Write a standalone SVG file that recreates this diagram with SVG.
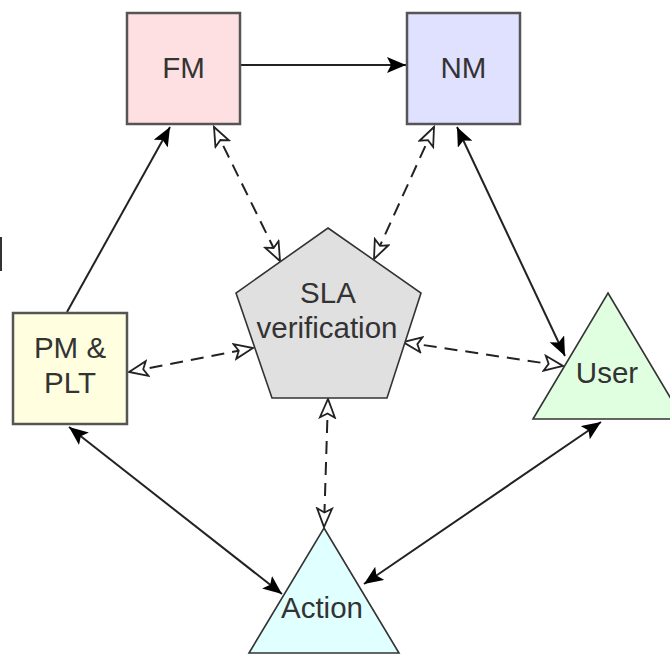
<svg xmlns="http://www.w3.org/2000/svg" width="670" height="654" viewBox="0 0 670 654">
<style>
.box{stroke:#555;stroke-width:2.5}
.shape{stroke:#333;stroke-width:1.6}
.lbl{font-family:"Liberation Sans",Arial,sans-serif;font-size:29.5px;fill:#333;text-anchor:middle}
.solid{stroke:#222;stroke-width:2;fill:none}
.dash{stroke:#222;stroke-width:2;fill:none;stroke-dasharray:13 8}
</style>
<defs>
<marker id="fa" markerUnits="userSpaceOnUse" markerWidth="22" markerHeight="18" refX="19" refY="8" orient="auto-start-reverse" viewBox="0 0 22 18">
<path d="M0,0 L19,8 L0,16 L4,8 z" fill="#000"/>
</marker>
<marker id="ha" markerUnits="userSpaceOnUse" markerWidth="24" markerHeight="20" refX="20" refY="9" orient="auto-start-reverse" viewBox="0 0 24 20">
<path d="M1.5,1.5 L20,9 L1.5,16.5 L5.5,9 z" fill="#fff" stroke="#222" stroke-width="1.8"/>
</marker>
</defs>
<rect x="0" y="237" width="2" height="34" fill="#333"/>
<g id="connectors">
<line class="solid" x1="241" y1="65" x2="406" y2="65" marker-end="url(#fa)"/>
<line class="solid" x1="67" y1="312" x2="170" y2="127" marker-end="url(#fa)"/>
<line class="solid" x1="457" y1="127" x2="565" y2="356" marker-start="url(#fa)" marker-end="url(#fa)"/>
<line class="solid" x1="69" y1="427" x2="282" y2="594" marker-start="url(#fa)" marker-end="url(#fa)"/>
<line class="solid" x1="601" y1="422" x2="364" y2="584" marker-start="url(#fa)" marker-end="url(#fa)"/>
<line class="dash" x1="214" y1="127" x2="280" y2="261" marker-start="url(#ha)" marker-end="url(#ha)"/>
<line class="dash" x1="434" y1="127" x2="374" y2="259" marker-start="url(#ha)" marker-end="url(#ha)"/>
<line class="dash" x1="129" y1="372" x2="253" y2="348" marker-start="url(#ha)" marker-end="url(#ha)"/>
<line class="dash" x1="403" y1="342" x2="563" y2="366" marker-start="url(#ha)" marker-end="url(#ha)"/>
<line class="dash" x1="328" y1="399" x2="324" y2="527" marker-start="url(#ha)" marker-end="url(#ha)"/>
</g>
<g id="FM">
<rect class="box" x="127" y="13" width="113" height="111" fill="#ffe0e2"/>
<text class="lbl" x="183.5" y="78">FM</text>
</g>
<g id="NM">
<rect class="box" x="407" y="13" width="113" height="111" fill="#e0e0ff"/>
<text class="lbl" x="463.5" y="78">NM</text>
</g>
<g id="PMPLT">
<rect class="box" x="13" y="313" width="114" height="111" fill="#ffffe0"/>
<text class="lbl" x="70" y="358">PM &amp;</text>
<text class="lbl" x="70" y="393">PLT</text>
</g>
<g id="SLA">
<polygon class="shape" points="328,228 421,293 387,398 272,398 236,293" fill="#e0e0e0"/>
<text class="lbl" x="328" y="303">SLA</text>
<text class="lbl" x="327" y="338">verification</text>
</g>
<g id="User">
<polygon class="shape" points="608,293 683,419 533,419" fill="#e0ffe0"/>
<text class="lbl" x="607" y="383">User</text>
</g>
<g id="Action">
<polygon class="shape" points="324,528 399,653 249,653" fill="#e0ffff"/>
<text class="lbl" x="322" y="618">Action</text>
</g>
</svg>
